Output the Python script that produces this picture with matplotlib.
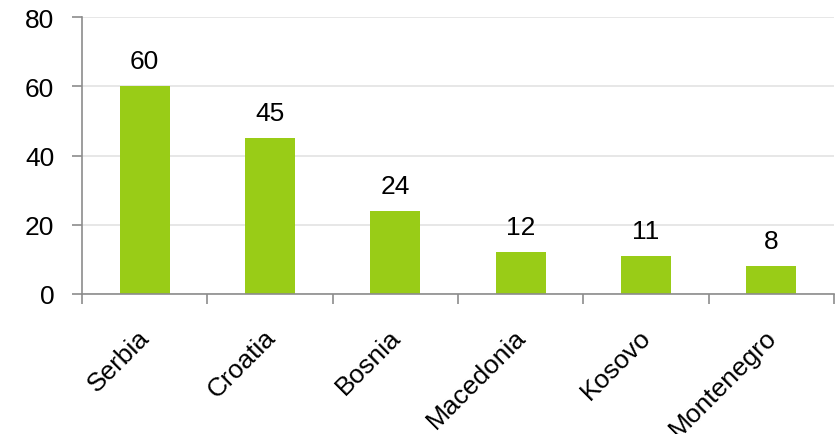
import matplotlib
matplotlib.use("Agg")
import matplotlib.pyplot as plt
import matplotlib.transforms as mtransforms
import numpy as np

countries = ["Serbia", "Croatia", "Bosnia", "Macedonia", "Kosovo", "Montenegro"]
values = [60, 45, 24, 12, 11, 8]
y_ticks = [0, 20, 40, 60, 80]

plt.rcParams['font.family'] = ['Liberation Sans', 'DejaVu Sans']
FS = 19

fig = plt.figure(figsize=(8.37, 4.35), dpi=100)
ax = fig.add_axes([82 / 837, 1 - 295 / 435, (834 - 82) / 837, (295 - 18) / 435])

x = np.arange(len(countries))
ax.bar(x, values, width=0.4, color="#99cc17", zorder=3)

for xi, v in zip(x, values):
    ax.text(xi, v + 5.2, str(v), ha="center", va="baseline", fontsize=FS, color="black")

ax.set_xlim(-0.5, len(countries) - 0.5)
ax.set_ylim(0, 80)
ax.set_yticks(y_ticks)
ax.set_yticklabels([str(t) for t in y_ticks], fontsize=FS)
ax.yaxis.grid(True, color="#e3e3e3", linewidth=1.2, zorder=0)

# category boundary ticks, labels centred on each bar
ax.set_xticks(np.arange(len(countries) + 1) - 0.5)
ax.set_xticklabels([])
ax.set_xticks(x, minor=True)
ax.set_xticklabels(countries, minor=True, rotation=45, ha="right",
                   rotation_mode="anchor", fontsize=FS)
ax.tick_params(axis="x", which="minor", length=0, pad=22)
ax.tick_params(axis="x", which="major", length=7, width=1.2, color="#8c8c8c")
ax.tick_params(axis="y", length=7, width=1.2, color="#8c8c8c", pad=13)

# nudge the rotated category labels slightly left
shift = mtransforms.ScaledTranslation(-7 / 100, 0, fig.dpi_scale_trans)
for lbl in ax.get_xticklabels(minor=True):
    lbl.set_transform(lbl.get_transform() + shift)

for side in ["top", "right"]:
    ax.spines[side].set_visible(False)
for side in ["left", "bottom"]:
    ax.spines[side].set_color("#8c8c8c")
    ax.spines[side].set_linewidth(1.2)
    ax.spines[side].set_zorder(4)

fig.savefig("out.png", dpi=100)
